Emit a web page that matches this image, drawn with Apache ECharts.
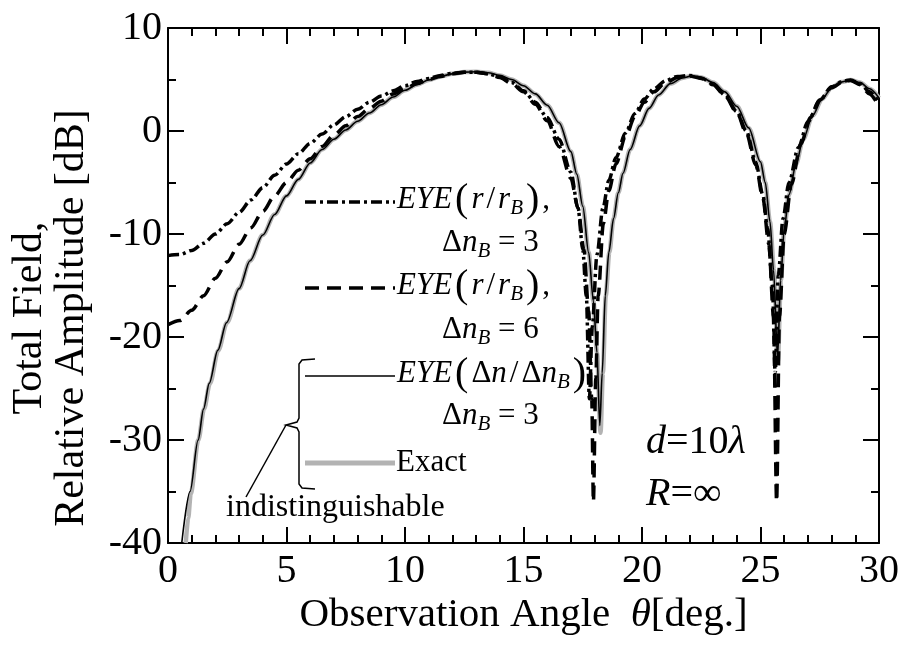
<!DOCTYPE html>
<html>
<head>
<meta charset="utf-8">
<script src="https://cdn.jsdelivr.net/npm/echarts@6/dist/echarts.min.js"></script>
<style>
  html, body { margin: 0; padding: 0; background: #fff; }
  #chart { width: 903px; height: 645px; }
</style>
</head>
<body>
<div id="chart"></div>
<script>
// Observation angle (deg) and relative total-field amplitude (dB) for each model
const thetaExact = [0.75, 0.85, 0.96, 1.28, 1.52, 1.77, 2.12, 2.49, 3.0, 3.46, 4.0, 4.5, 5.0, 5.5, 6.0, 6.5, 7.0, 7.5, 8.0, 8.5, 9.0, 9.5, 10, 10.5, 11, 11.5, 12, 12.5, 13, 13.5, 14, 14.5, 15, 15.5, 16, 16.5, 17, 17.25, 17.5, 17.75, 17.95, 18.1, 18.25, 18.35, 18.47, 18.62, 18.8, 19.0, 19.2, 19.5, 19.9, 20.3, 20.7, 21.2, 21.7, 22.1, 22.5, 23, 23.5, 24, 24.5, 25, 25.2, 25.4, 25.57, 25.73, 25.86, 26.0, 26.2, 26.5, 26.8, 27.2, 27.6, 28, 28.4, 28.8, 29.2, 29.6, 30];
const dbExact    = [-40, -37.6, -35.2, -30, -27, -24.5, -21.3, -18.6, -15.3, -12.6, -10.1, -8.1, -6.3, -4.7, -3.1, -1.8, -0.8, 0.1, 0.95, 1.75, 2.55, 3.3, 3.95, 4.5, 4.95, 5.3, 5.55, 5.72, 5.75, 5.65, 5.4, 5.0, 4.4, 3.6, 2.5, 0.8, -2.0, -4.2, -7.3, -11.8, -16.5, -21.5, -29.3, -23.5, -16, -11.8, -8.5, -6.0, -4.1, -1.8, 0.5, 2.2, 3.5, 4.6, 5.15, 5.35, 5.2, 4.7, 3.8, 2.4, 0.3, -3.0, -5.0, -8.8, -13.5, -22.4, -14.5, -9.5, -6.2, -3.2, -0.8, 1.5, 3.1, 4.2, 4.75, 4.95, 4.7, 4.1, 3.2];

const thetaIndex = [0.58, 0.93, 1.27, 1.5, 1.74, 2.1, 2.47, 3.0, 3.46, 4.0, 4.5, 5.0, 5.5, 6.0, 6.5, 7.0, 7.5, 8.0, 8.5, 9.0, 9.5, 10, 10.5, 11, 11.5, 12, 12.5, 13, 13.5, 14, 14.5, 15, 15.5, 16, 16.5, 17, 17.25, 17.5, 17.75, 17.95, 18.1, 18.22, 18.32, 18.45, 18.6, 18.8, 19.0, 19.2, 19.5, 19.9, 20.3, 20.7, 21.2, 21.7, 22.1, 22.5, 23, 23.5, 24, 24.5, 25, 25.2, 25.4, 25.55, 25.72, 25.85, 26.0, 26.2, 26.5, 26.8, 27.2, 27.6, 28, 28.4, 28.8, 29.2, 29.6, 30];
const dbIndex    = [-40, -35, -30, -27, -24.5, -21.3, -18.6, -15.3, -12.6, -10.1, -8.1, -6.3, -4.7, -3.1, -1.8, -0.8, 0.1, 0.95, 1.75, 2.55, 3.3, 3.95, 4.5, 4.95, 5.3, 5.55, 5.72, 5.75, 5.65, 5.4, 5.0, 4.4, 3.6, 2.5, 0.8, -2.0, -4.2, -7.3, -11.8, -16.5, -21.5, -28.6, -23.5, -16, -11.8, -8.5, -6.0, -4.1, -1.8, 0.5, 2.2, 3.5, 4.6, 5.15, 5.35, 5.2, 4.7, 3.8, 2.4, 0.3, -3.0, -5.0, -8.8, -13.5, -22.0, -14.5, -9.5, -6.2, -3.2, -0.8, 1.5, 3.1, 4.2, 4.75, 4.95, 4.7, 4.1, 3.2];

const thetaRadial6 = [0, 0.5, 1.0, 1.5, 2.0, 2.5, 3.0, 3.5, 4.0, 4.5, 5.0, 5.5, 6.0, 6.5, 7.0, 7.5, 8, 8.5, 9, 9.5, 10, 10.5, 11, 11.5, 12, 12.5, 13, 13.5, 14, 14.5, 15, 15.5, 16, 16.5, 17, 17.3, 17.55, 17.75, 17.88, 17.95, 18.05, 18.15, 18.37, 18.6, 18.9, 19.3, 19.7, 20.1, 20.5, 21, 21.5, 22, 22.5, 23, 23.5, 24, 24.4, 24.8, 25.1, 25.35, 25.55, 25.68, 25.8, 26.0, 26.3, 26.7, 27.1, 27.5, 28, 28.5, 28.8, 29.2, 29.6, 30];
const dbRadial6    = [-18.8, -18.4, -17.4, -16.0, -14.3, -12.7, -11.0, -9.4, -7.8, -6.3, -5.0, -3.8, -2.7, -1.5, -0.4, 0.5, 1.4, 2.2, 2.9, 3.6, 4.1, 4.6, 5.0, 5.3, 5.55, 5.7, 5.7, 5.55, 5.2, 4.6, 3.8, 2.6, 1.0, -1.5, -4.6, -7.5, -11.5, -17.5, -26, -36, -24, -16, -9, -5.8, -3.2, -0.6, 1.4, 2.8, 3.8, 4.7, 5.2, 5.35, 5.1, 4.5, 3.4, 1.8, -0.2, -3.3, -6.5, -11, -18, -36, -18, -10, -5.2, -1.3, 1.3, 3.0, 4.2, 4.8, 4.9, 4.5, 3.6, 2.4];

const thetaRadial3 = [0, 0.5, 1.0, 1.5, 2.0, 2.5, 3.0, 3.5, 4.0, 4.5, 5.0, 5.5, 6.0, 6.5, 7.0, 7.5, 8, 8.5, 9, 9.5, 10, 10.5, 11, 11.5, 12, 12.5, 13, 13.5, 14, 14.5, 15, 15.5, 16, 16.5, 17, 17.3, 17.5, 17.65, 17.78, 17.9, 18.1, 18.35, 18.6, 18.9, 19.3, 19.7, 20.1, 20.5, 21, 21.5, 22, 22.5, 23, 23.5, 24, 24.4, 24.8, 25.1, 25.3, 25.5, 25.62, 25.75, 25.95, 26.2, 26.6, 27.0, 27.5, 28, 28.5, 28.8, 29.2, 29.6, 30];
const dbRadial3    = [-12.1, -12.0, -11.6, -10.9, -10.0, -9.0, -7.9, -6.7, -5.5, -4.3, -3.2, -2.2, -1.2, -0.3, 0.6, 1.4, 2.1, 2.8, 3.4, 3.9, 4.4, 4.8, 5.1, 5.4, 5.6, 5.7, 5.7, 5.55, 5.25, 4.7, 3.9, 2.8, 1.3, -0.8, -4.0, -7.5, -11.5, -16, -26, -19, -12, -7.5, -4.8, -2.6, -0.2, 1.7, 3.1, 4.1, 4.9, 5.3, 5.4, 5.15, 4.55, 3.5, 1.9, 0.0, -3.0, -6.2, -9.5, -15, -23.5, -14, -8.5, -5.0, -1.6, 0.9, 3.0, 4.3, 4.85, 4.95, 4.6, 3.8, 2.8];

const zip = (xs, ys) => xs.map((x, i) => [x, ys[i]]);

const SERIF = "'Liberation Serif', 'DejaVu Serif', serif";
const INK = '#000';
const GREY = '#b3b3b3';
const DASH = [14, 8];
const DASH_DOT = [11, 4, 3, 4];

const chart = echarts.init(document.getElementById('chart'), null, { renderer: 'canvas' });

function axisCommon(showLabel) {
  return {
    axisLine: { show: true, onZero: false, lineStyle: { color: INK, width: 2 } },
    axisTick: { show: true, inside: true, length: 16, lineStyle: { color: INK, width: 2 } },
    minorTick: { show: true, length: 8, lineStyle: { color: INK, width: 2 } },
    splitLine: { show: false },
    minorSplitLine: { show: false },
    axisLabel: showLabel
      ? { show: true, color: INK, fontFamily: SERIF, fontSize: 40 }
      : { show: false }
  };
}

const xBottom = Object.assign(axisCommon(true), {
  type: 'value', min: 0, max: 30, interval: 5, position: 'bottom',
  name: '{n|Observation Angle  }{i|θ}{n|[deg.]}',
  nameLocation: 'middle', nameGap: 52, nameMoveOverlap: false,
  nameTextStyle: {
    color: INK, fontFamily: SERIF, fontSize: 41,
    rich: {
      n: { fontFamily: SERIF, fontSize: 41, color: INK },
      i: { fontFamily: SERIF, fontSize: 41, fontStyle: 'italic', color: INK }
    }
  }
});
xBottom.minorTick.splitNumber = 5;
xBottom.axisLabel.margin = 8;

const xTop = Object.assign(axisCommon(false), {
  type: 'value', min: 0, max: 30, interval: 5, position: 'top'
});
xTop.minorTick.splitNumber = 5;

const yLeft = Object.assign(axisCommon(true), {
  type: 'value', min: -40, max: 10, interval: 10, position: 'left'
});
yLeft.minorTick.splitNumber = 2;
yLeft.axisLabel.margin = 6;

const yRight = Object.assign(axisCommon(false), {
  type: 'value', min: -40, max: 10, interval: 10, position: 'right'
});
yRight.minorTick.splitNumber = 2;

const base = { type: 'line', showSymbol: false, symbol: 'none', smooth: 0.3, smoothMonotone: 'x', silent: true, animation: false };

// legend rich-text styles
const rich = {
  i: { fontFamily: SERIF, fontSize: 31, fontStyle: 'italic', fill: INK, lineHeight: 38 },
  n: { fontFamily: SERIF, fontSize: 31, fill: INK, lineHeight: 38 },
  o: { fontFamily: SERIF, fontSize: 31, fill: INK, lineHeight: 38, padding: [0, 3, 0, 3] },
  p: { fontFamily: SERIF, fontSize: 40, fill: INK, lineHeight: 38, padding: [0, 3, 0, 3] },
  s: { fontFamily: SERIF, fontSize: 21, fontStyle: 'italic', fill: INK, lineHeight: 21, verticalAlign: 'bottom' }
};
const mathRich = {
  i: { fontFamily: SERIF, fontSize: 40, fontStyle: 'italic', fill: INK },
  n: { fontFamily: SERIF, fontSize: 40, fill: INK }
};

function label(x, y, text, r) {
  return { type: 'text', x: x, y: y, silent: true,
    style: { text: text, rich: r || rich, textAlign: 'left', textVerticalAlign: 'middle', fill: INK, font: '31px ' + SERIF } };
}
function sample(y, style) {
  return { type: 'line', silent: true, shape: { x1: 305, y1: y, x2: 395, y2: y }, style: style };
}

const option = {
  backgroundColor: '#fff',
  animation: false,
  grid: { left: 168, top: 28, right: 24, bottom: 102, containLabel: false, outerBoundsMode: 'none' },
  xAxis: [xBottom, xTop],
  yAxis: [yLeft, yRight],
  series: [
    Object.assign({}, base, { name: 'Exact', data: zip(thetaExact, dbExact), lineStyle: { color: GREY, width: 4.5 }, z: 2 }),
    Object.assign({}, base, { name: 'EYE(Δn/ΔnB) ΔnB=3', data: zip(thetaIndex, dbIndex), lineStyle: { color: INK, width: 1.6 }, z: 3 }),
    Object.assign({}, base, { name: 'EYE(r/rB) ΔnB=6', data: zip(thetaRadial6, dbRadial6), lineStyle: { color: INK, width: 3.5, type: DASH, cap: 'butt' }, z: 4 }),
    Object.assign({}, base, { name: 'EYE(r/rB) ΔnB=3', data: zip(thetaRadial3, dbRadial3), lineStyle: { color: INK, width: 3.5, type: DASH_DOT, cap: 'butt' }, z: 5 })
  ],
  graphic: [
    // y-axis title
    { type: 'text', x: 51, y: 318, rotation: Math.PI / 2, silent: true,
      style: { text: 'Total Field,\nRelative Amplitude [dB]', font: '42px ' + SERIF, fill: INK,
               textAlign: 'center', textVerticalAlign: 'middle', lineHeight: 42 } },

    // legend
    sample(202, { stroke: INK, lineWidth: 3.5, lineDash: DASH_DOT }),
    label(397, 200, '{i|EYE}{p|(}{i|r}{o|/}{i|r}{s|B}{p|)}{n|,}'),
    label(442, 243, '{n|Δ}{i|n}{s|B}{n| = 3}'),

    sample(288, { stroke: INK, lineWidth: 3.5, lineDash: DASH }),
    label(397, 286, '{i|EYE}{p|(}{i|r}{o|/}{i|r}{s|B}{p|)}{n|,}'),
    label(442, 330, '{n|Δ}{i|n}{s|B}{n| = 6}'),

    sample(376, { stroke: INK, lineWidth: 1.6 }),
    label(397, 374, '{i|EYE}{p|(}{n|Δ}{i|n}{o|/}{n|Δ}{i|n}{s|B}{p|)}'),
    label(442, 416, '{n|Δ}{i|n}{s|B}{n| = 3}'),

    sample(463, { stroke: GREY, lineWidth: 5 }),
    label(396, 463, '{n|Exact}'),

    // curly bracket grouping the two indistinguishable curves
    { type: 'polyline', silent: true,
      shape: { points: [[315, 359], [302, 360], [299, 364], [299, 418], [297, 422], [286, 425], [297, 428], [299, 432], [299, 484], [302, 488], [315, 489]] },
      style: { stroke: INK, lineWidth: 1.5, fill: null } },
    { type: 'line', silent: true, shape: { x1: 286, y1: 425, x2: 246, y2: 497 }, style: { stroke: INK, lineWidth: 1.5 } },
    label(226, 508, '{n|indistinguishable}', { n: { fontFamily: SERIF, fontSize: 32, fill: INK } }),

    // geometry annotations
    label(646, 442, '{i|d}{n|=10}{i|λ}', mathRich),
    label(646, 494, '{i|R}{n|=∞}', mathRich)
  ]
};

chart.setOption(option);
</script>
</body>
</html>
